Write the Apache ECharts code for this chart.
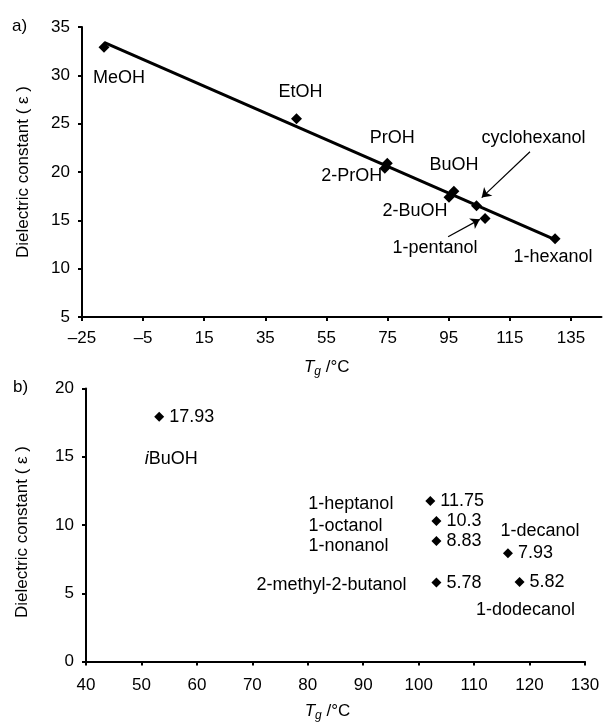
<!DOCTYPE html>
<html>
<head>
<meta charset="utf-8">
<script src="https://cdn.jsdelivr.net/npm/echarts@6/dist/echarts.min.js"></script>
<style>
  html, body { margin: 0; padding: 0; background: #fff; }
  #chart { width: 603px; height: 727px; }
</style>
</head>
<body>
<div id="chart"></div>
<script>
// panel a) - alcohols on the trend line
const namesA = ['MeOH', 'EtOH', 'PrOH', '2-PrOH', 'BuOH', '2-BuOH', 'cyclohexanol', '1-pentanol', '1-hexanol'];
const tgA = [-17.8, 45.2, 74.9, 74.1, 96.7, 95.1, 104.1, 106.9, 129.8];
const epsA = [32.9, 25.5, 20.9, 20.4, 18.0, 17.4, 16.5, 15.2, 13.1];
// fitted line, end points
const fitA = [[-17.8, 33.4], [129.8, 13.0]];
// leader arrows: [from, to]
const arrowsA = [
  [[121.6, 22.1], [105.8, 17.35]],
  [[94.8, 13.3], [105.2, 15.1]]
];
const xTicksA = [-25, -5, 15, 35, 55, 75, 95, 115, 135];
const yTicksA = [5, 10, 15, 20, 25, 30, 35];

// panel b) - alcohols off the line
const namesB = ['iBuOH', '1-heptanol', '1-octanol', '1-nonanol', '2-methyl-2-butanol', '1-decanol', '1-dodecanol'];
const tgB = [53.2, 102.1, 103.2, 103.2, 103.2, 116.1, 118.2];
const epsB = [17.93, 11.75, 10.3, 8.83, 5.78, 7.93, 5.82];
const xTicksB = [40, 50, 60, 70, 80, 90, 100, 110, 120, 130];
const yTicksB = [0, 5, 10, 15, 20];

// label placement (pixel offsets from the point)
const offA = {
  'MeOH': [15, 31], 'EtOH': [4, -27], 'PrOH': [5, -25], '2-PrOH': [-33, 8],
  'BuOH': [0, -26], '2-BuOH': [-34, 14], 'cyclohexanol': [57, -68],
  '1-pentanol': [-50, 30], '1-hexanol': [-2, 18]
};
const offB = {
  'iBuOH': [[12, 42], 'center'],
  '1-heptanol': [[-122, 3], 'left'],
  '1-octanol': [[-128, 5], 'left'],
  '1-nonanol': [[-128, 5], 'left'],
  '2-methyl-2-butanol': [[-180, 2], 'left'],
  '1-decanol': [[32, -22], 'center'],
  '1-dodecanol': [[6, 28], 'center']
};

const FONT = 'Liberation Sans, Arial, Helvetica, sans-serif';
const FS = 17;   // axis text
const LS = 18;   // point annotations

const chart = echarts.init(document.getElementById('chart'));

const axisLine = { show: true, onZero: false, lineStyle: { color: '#000', width: 2 } };
const axisTick = { show: true, inside: false, length: 4, lineStyle: { color: '#000', width: 2 } };
const tickLabel = { color: '#000', fontSize: FS, fontFamily: FONT };

const tgName = '{i|T}{sub|g}{n| /°C}';
const tgRich = {
  i: { fontStyle: 'italic', fontSize: FS, fontFamily: FONT, color: '#000' },
  sub: { fontStyle: 'italic', fontSize: 12, fontFamily: FONT, color: '#000', padding: [9, 0, 0, 0] },
  n: { fontSize: FS, fontFamily: FONT, color: '#000' }
};

function dash(v) {
  return v < 0 ? '\u2013' + Math.abs(v) : String(v);
}

const ptsA = tgA.map((x, i) => ({
  name: namesA[i], value: [x, epsA[i]],
  label: { offset: offA[namesA[i]] }
}));
const ptsB = tgB.map((x, i) => ({ name: namesB[i], value: [x, epsB[i]] }));

chart.setOption({
  animation: false,
  backgroundColor: '#fff',
  textStyle: { fontFamily: FONT },
  graphic: [
    { type: 'text', left: 12, top: 18, style: { text: 'a)', font: FS + 'px ' + FONT, fill: '#000' } },
    { type: 'text', left: 13, top: 379, style: { text: 'b)', font: FS + 'px ' + FONT, fill: '#000' } }
  ],
  grid: [
    { left: 82, top: 27, width: 519.5, height: 290 },
    { left: 86, top: 388.5, width: 499, height: 273 }
  ],
  xAxis: [
    {
      gridIndex: 0, type: 'value', min: -25, max: 145, interval: 20,
      splitLine: { show: false }, axisLine: axisLine,
      axisTick: Object.assign({}, axisTick, { customValues: xTicksA }),
      axisLabel: Object.assign({}, tickLabel, { margin: 13, customValues: xTicksA, formatter: dash }),
      name: tgName, nameLocation: 'middle', nameGap: 40,
      nameTextStyle: { rich: tgRich, padding: [0, 30, 0, 0] }
    },
    {
      gridIndex: 1, type: 'value', min: 40, max: 130, interval: 10,
      splitLine: { show: false }, axisLine: axisLine,
      axisTick: Object.assign({}, axisTick, { customValues: xTicksB }),
      axisLabel: Object.assign({}, tickLabel, { margin: 15, customValues: xTicksB }),
      name: tgName, nameLocation: 'middle', nameGap: 39,
      nameTextStyle: { rich: tgRich, padding: [0, 16, 0, 0] }
    }
  ],
  yAxis: [
    {
      gridIndex: 0, type: 'value', min: 5, max: 35, interval: 5,
      splitLine: { show: false }, axisLine: axisLine,
      axisTick: Object.assign({}, axisTick, { customValues: yTicksA }),
      axisLabel: Object.assign({}, tickLabel, { margin: 12, customValues: yTicksA }),
      name: 'Dielectric constant ( \u03b5 )', nameLocation: 'middle', nameGap: 50,
      nameTextStyle: { color: '#000', fontSize: FS, fontFamily: FONT }
    },
    {
      gridIndex: 1, type: 'value', min: 0, max: 20, interval: 5,
      splitLine: { show: false }, axisLine: axisLine,
      axisTick: Object.assign({}, axisTick, { customValues: yTicksB }),
      axisLabel: Object.assign({}, tickLabel, { margin: 12, customValues: yTicksB }),
      name: 'Dielectric constant ( \u03b5 )', nameLocation: 'middle', nameGap: 55,
      nameTextStyle: { color: '#000', fontSize: FS, fontFamily: FONT, padding: [0, 14, 0, 0] }
    }
  ],
  series: [
    {
      type: 'line', xAxisIndex: 0, yAxisIndex: 0, data: fitA,
      symbol: 'none', lineStyle: { color: '#000', width: 3 }, z: 2,
      markLine: {
        silent: true, symbol: ['none', 'arrow'], symbolSize: 9,
        label: { show: false },
        emphasis: { disabled: true },
        lineStyle: { color: '#000', width: 1.2, type: 'solid' },
        data: arrowsA.map(a => [{ coord: a[0] }, { coord: a[1] }])
      }
    },
    {
      type: 'scatter', xAxisIndex: 0, yAxisIndex: 0, data: ptsA,
      symbol: 'diamond', symbolSize: 11, itemStyle: { color: '#000', opacity: 1 }, z: 3,
      label: {
        show: true, position: 'inside', color: '#000', fontSize: LS, fontFamily: FONT,
        formatter: p => p.name
      }
    },
    {
      type: 'scatter', xAxisIndex: 1, yAxisIndex: 1, data: ptsB,
      symbol: 'diamond', symbolSize: 10, itemStyle: { color: '#000', opacity: 1 }, z: 3,
      label: {
        show: true, position: 'right', distance: 5, color: '#000', fontSize: LS, fontFamily: FONT,
        formatter: p => String(p.value[1])
      }
    },
    {
      type: 'scatter', xAxisIndex: 1, yAxisIndex: 1, silent: true,
      data: ptsB.map(p => ({
        name: p.name, value: p.value,
        label: { offset: offB[p.name][0], align: offB[p.name][1] }
      })),
      symbolSize: 1, itemStyle: { color: 'rgba(0,0,0,0)', opacity: 1 }, z: 4,
      label: {
        show: true, position: 'inside', color: '#000', fontSize: LS, fontFamily: FONT,
        formatter: p => p.name === 'iBuOH' ? '{it|i}BuOH' : p.name,
        rich: { it: { fontStyle: 'italic', fontSize: LS, fontFamily: FONT, color: '#000' } }
      }
    }
  ]
});
</script>
</body>
</html>
